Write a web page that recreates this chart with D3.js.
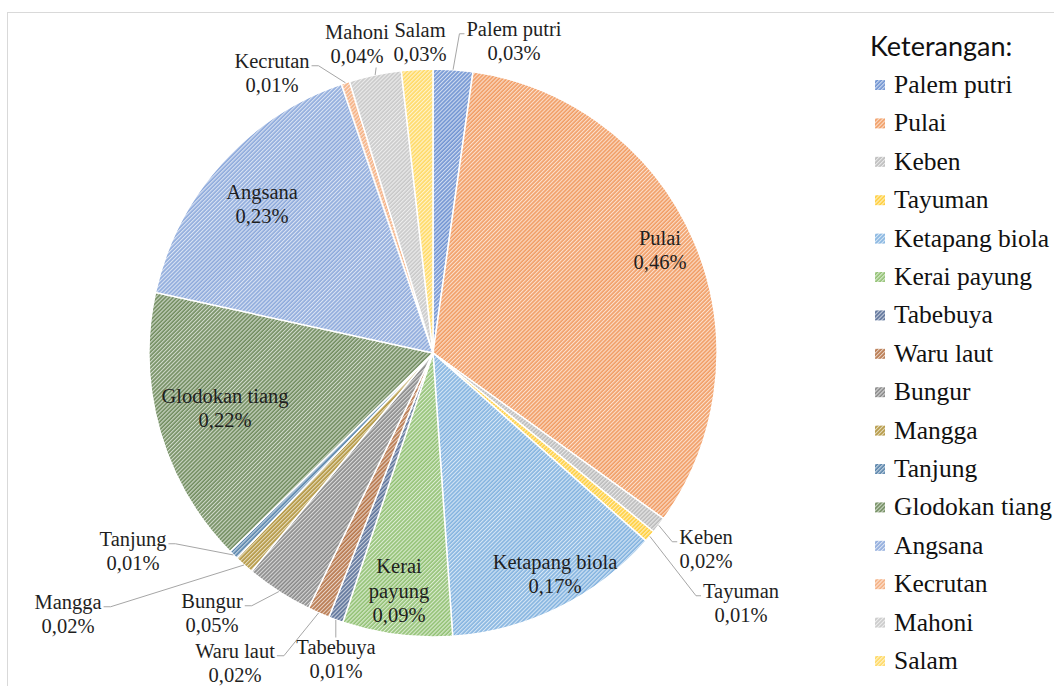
<!DOCTYPE html>
<html>
<head>
<meta charset="utf-8">
<script src="https://cdn.jsdelivr.net/npm/d3@7"></script>
<style>
  body { margin: 0; background: #fff; }
  svg { display: block; }
</style>
</head>
<body>
<svg id="chart" width="1054" height="686"></svg>
<script>
// species names (slice order, clockwise from 12 o'clock)
const species = [
  'Palem putri', 'Pulai', 'Keben', 'Tayuman', 'Ketapang biola', 'Kerai payung',
  'Tabebuya', 'Waru laut', 'Bungur', 'Mangga', 'Tanjung', 'Glodokan tiang',
  'Angsana', 'Kecrutan', 'Mahoni', 'Salam',
];
// share of the pie (%)
const shares = [
  2.25, 32.67, 0.92, 0.67, 12.39, 6.25,
  0.83, 1.25, 3.81, 1.11, 0.53, 15.75,
  16.36, 0.47, 2.97, 1.78,
];
// data label values as printed
const valueLabels = [
  '0,03%', '0,46%', '0,02%', '0,01%', '0,17%', '0,09%',
  '0,01%', '0,02%', '0,05%', '0,02%', '0,01%', '0,22%',
  '0,23%', '0,01%', '0,04%', '0,03%',
];
const colors = [
  '#4472C4', '#ED7D31', '#A5A5A5', '#FFC000', '#5B9BD5', '#70AD47',
  '#264478', '#9E480E', '#636363', '#997300', '#255E91', '#43682B',
  '#698ED0', '#F1975A', '#B7B7B7', '#FFCD33',
];

// label layout: block centre relative to pie centre, leader side
const labelLayout = {
  'Palem putri': { x: 81, y: -311, lead: 'left' },
  'Pulai': { x: 227, y: -102 },
  'Keben': { x: 273, y: 197, lead: 'left' },
  'Tayuman': { x: 308, y: 251, lead: 'left' },
  'Ketapang biola': { x: 122, y: 222 },
  'Kerai payung': { x: -34, y: 239, lines: ['Kerai', 'payung'] },
  'Tabebuya': { x: -97, y: 307, lead: 'top' },
  'Waru laut': { x: -198, y: 311, lead: 'right' },
  'Bungur': { x: -221, y: 261, lead: 'right' },
  'Mangga': { x: -365, y: 262, lead: 'right' },
  'Tanjung': { x: -300, y: 199, lead: 'right' },
  'Glodokan tiang': { x: -208, y: 56 },
  'Angsana': { x: -171, y: -148 },
  'Kecrutan': { x: -161, y: -279, lead: 'right' },
  'Mahoni': { x: -76, y: -308, lead: 'bottom' },
  'Salam': { x: -13, y: -310 },
};

const cx = 433;
const cy = 353;
const radius = 284;
const lineH = 24.5;
const serif = 'Liberation Serif';

const svg = d3.select('#chart');

// chart area frame
svg
  .append('rect')
  .attr('x', 7.5)
  .attr('y', 12.5)
  .attr('width', 1100)
  .attr('height', 800)
  .attr('fill', '#fff')
  .attr('stroke', '#D9D9D9');

// hatch patterns: light ground with fine upward diagonal lines in the series colour
const defs = svg.append('defs');
colors.forEach((c, i) => {
  const p = defs
    .append('pattern')
    .attr('id', 'hatch' + i)
    .attr('patternUnits', 'userSpaceOnUse')
    .attr('width', 2.8)
    .attr('height', 2.8)
    .attr('patternTransform', 'rotate(45)');
  p.append('rect')
    .attr('width', 2.8)
    .attr('height', 2.8)
    .attr('fill', d3.interpolateRgb(c, '#fff')(0.75));
  p.append('line')
    .attr('x1', 1)
    .attr('x2', 1)
    .attr('y1', 0)
    .attr('y2', 2.8)
    .attr('stroke', c)
    .attr('stroke-width', 1.1);
});

const pie = d3.pie().sort(null).value((d) => d);
const arcs = pie(shares);
const arc = d3.arc().innerRadius(0).outerRadius(radius);

const g = svg.append('g').attr('transform', `translate(${cx},${cy})`);

g.selectAll('path.slice')
  .data(arcs)
  .enter()
  .append('path')
  .attr('class', 'slice')
  .attr('d', arc)
  .attr('fill', (d, i) => `url(#hatch${i})`)
  .attr('stroke', '#fff')
  .attr('stroke-width', 1.5);

// data labels
const leaders = g.append('g');
const labels = g
  .append('g')
  .style('font-family', serif)
  .style('font-size', '20.5px')
  .attr('fill', '#1f1f1f');

arcs.forEach((a, i) => {
  const name = species[i];
  const lay = labelLayout[name];
  const lines = (lay.lines || [name]).concat([valueLabels[i]]);
  const top = lay.y - (lines.length * lineH) / 2;
  const t = labels.append('text').attr('text-anchor', 'middle');
  lines.forEach((s, k) => {
    t.append('tspan')
      .attr('x', lay.x)
      .attr('y', top + lineH * k + 18)
      .text(s);
  });
  if (!lay.lead) return;

  // point on the slice rim at mid angle
  const mid = (a.startAngle + a.endAngle) / 2;
  const px = Math.sin(mid) * radius;
  const py = -Math.cos(mid) * radius;
  const w0 = t.select('tspan').node().getComputedTextLength();
  const ly = top + lineH / 2 + 4;
  let pts;
  if (lay.lead === 'left') {
    const lx = lay.x - w0 / 2 - 2;
    pts = [[lx, ly], [lx - 5, ly], [px, py]];
  } else if (lay.lead === 'right') {
    const lx = lay.x + w0 / 2 + 2;
    pts = [[lx, ly], [lx + 7, ly], [px, py]];
  } else if (lay.lead === 'top') {
    pts = [[px, top + 2], [px, py]];
  } else {
    pts = [[px + 1, top + lines.length * lineH - 2], [px, py]];
  }
  leaders
    .append('path')
    .attr('d', d3.line()(pts))
    .attr('fill', 'none')
    .attr('stroke', '#A6A6A6')
    .attr('stroke-width', 1);
});

// legend
const legend = svg.append('g');
legend
  .append('text')
  .attr('x', 870)
  .attr('y', 56)
  .style('font-family', 'Lato')
  .style('font-size', '27px')
  .attr('fill', '#111')
  .text('Keterangan:');

const rowY = d3.scaleLinear().domain([0, species.length - 1]).range([85, 661]);
const items = legend
  .selectAll('g.item')
  .data(species)
  .enter()
  .append('g')
  .attr('class', 'item')
  .attr('transform', (d, i) => `translate(875,${rowY(i)})`);
items
  .append('rect')
  .attr('x', 0)
  .attr('y', -5)
  .attr('width', 10)
  .attr('height', 10)
  .attr('fill', (d, i) => `url(#hatch${i})`);
items
  .append('text')
  .attr('x', 19)
  .attr('y', 8)
  .style('font-family', serif)
  .style('font-size', '25.5px')
  .attr('fill', '#111')
  .text((d) => d);
</script>
</body>
</html>
